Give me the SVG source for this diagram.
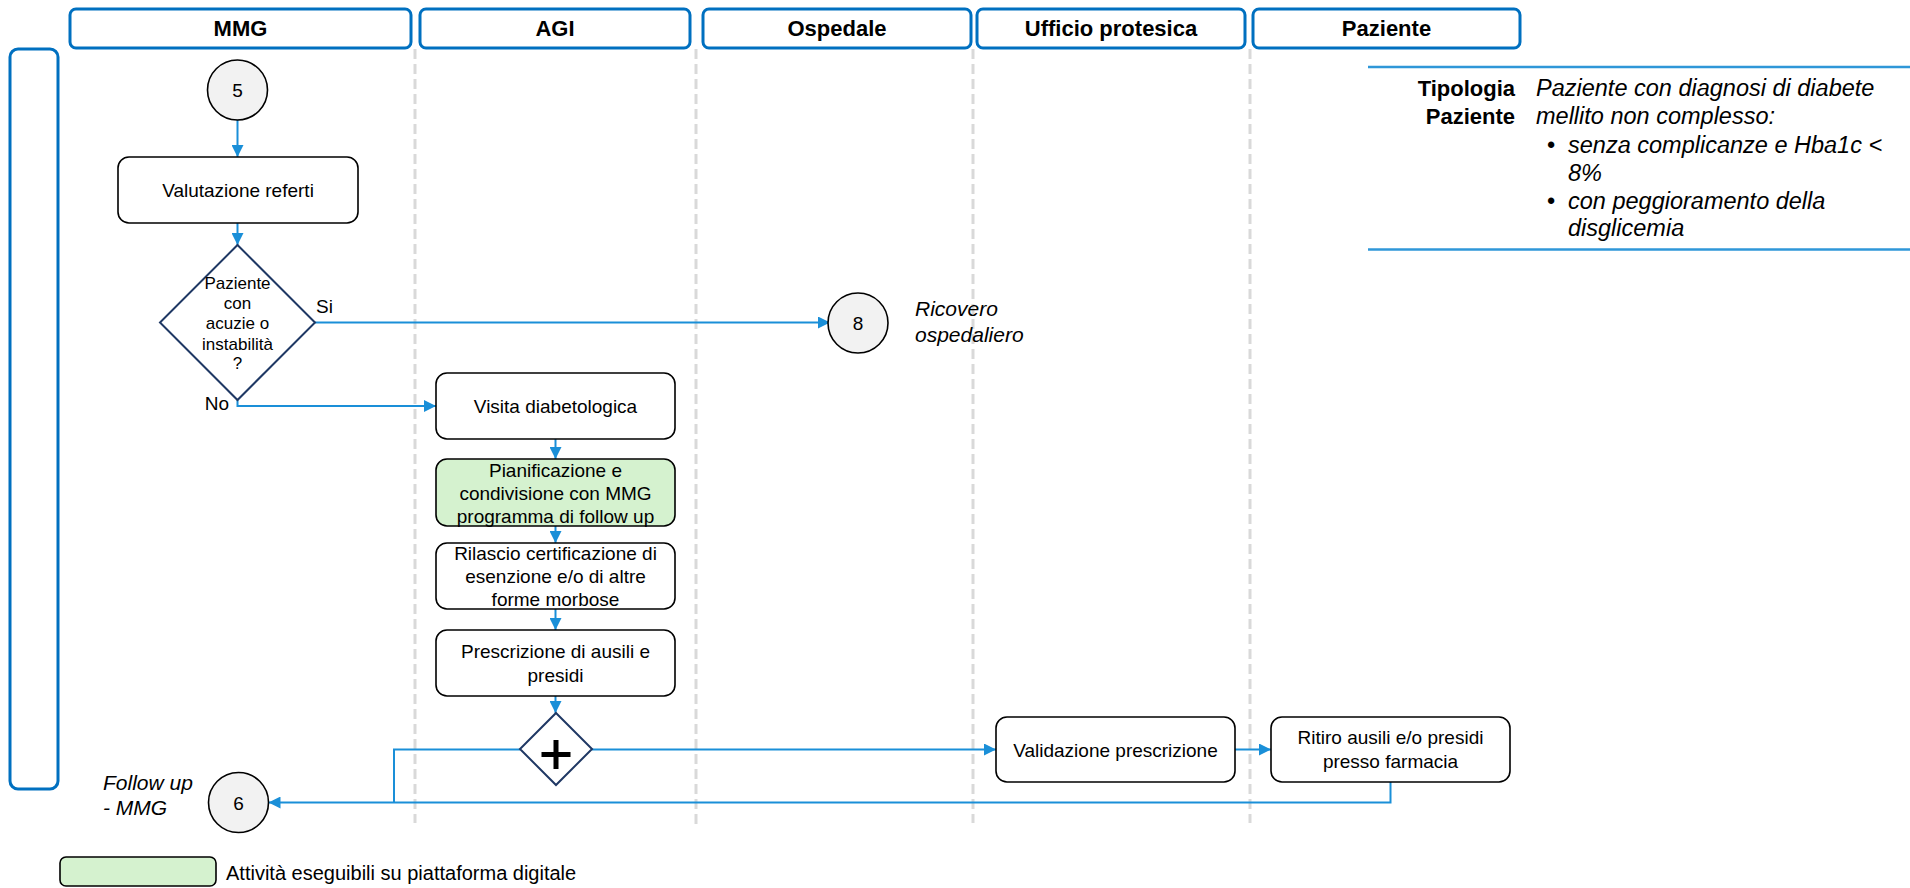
<svg xmlns="http://www.w3.org/2000/svg" width="1910" height="888" viewBox="0 0 1910 888">
<style>
text{font-family:"Liberation Sans",Arial,sans-serif;fill:#000}
.hdr{fill:#fff;stroke:#0070C0;stroke-width:3}
.htx{font-size:22px;font-weight:bold;text-anchor:middle}
.sep{stroke:#d9d9d9;stroke-width:3;stroke-dasharray:10 5;fill:none}
.box{fill:#fff;stroke:#000;stroke-width:1.6}
.green{fill:#d5f2cf}
.circ{fill:#f2f2f2;stroke:#000;stroke-width:1.6}
.dia{fill:#fff;stroke:#1F3864;stroke-width:2}
.t19{font-size:19px;text-anchor:middle}
.t17{font-size:17px;text-anchor:middle}
.it{font-style:italic}
.con{fill:none;stroke:#1a8fd8;stroke-width:2}
.note{stroke:#2f97d8;stroke-width:2.5}
</style>
<defs>
<marker id="ah" markerUnits="userSpaceOnUse" markerWidth="12" markerHeight="12" refX="12" refY="6" orient="auto">
<path d="M0,0 L12,6 L0,12 z" fill="#1a8fd8"/>
</marker>
</defs>
<rect width="1910" height="888" fill="#fff"/>

<g id="lanes">
<rect class="hdr" x="70" y="9" width="341" height="39" rx="6"/>
<text class="htx" x="240.5" y="36">MMG</text>
<rect class="hdr" x="420" y="9" width="270" height="39" rx="6"/>
<text class="htx" x="555" y="36">AGI</text>
<rect class="hdr" x="703" y="9" width="268" height="39" rx="6"/>
<text class="htx" x="837" y="36">Ospedale</text>
<rect class="hdr" x="977" y="9" width="268" height="39" rx="6"/>
<text class="htx" x="1111" y="36">Ufficio protesica</text>
<rect class="hdr" x="1253" y="9" width="267" height="39" rx="6"/>
<text class="htx" x="1386.5" y="36">Paziente</text>
<rect x="10" y="49" width="48" height="740" rx="8" fill="none" stroke="#0070C0" stroke-width="3"/>
<line class="sep" x1="415" y1="49" x2="415" y2="823"/>
<line class="sep" x1="696" y1="49" x2="696" y2="825"/>
<line class="sep" x1="973" y1="49" x2="973" y2="823"/>
<line class="sep" x1="1250" y1="49" x2="1250" y2="823"/>
</g>

<g id="connectors">
<path class="con" d="M237.5,120 L237.5,157" marker-end="url(#ah)"/>
<path class="con" d="M237.5,223 L237.5,245" marker-end="url(#ah)"/>
<path class="con" d="M315,322.5 L830,322.5" marker-end="url(#ah)"/>
<path class="con" d="M237.5,400 L237.5,406 L436,406" marker-end="url(#ah)"/>
<path class="con" d="M555.5,439 L555.5,459" marker-end="url(#ah)"/>
<path class="con" d="M555.5,526 L555.5,543" marker-end="url(#ah)"/>
<path class="con" d="M555.5,609 L555.5,630" marker-end="url(#ah)"/>
<path class="con" d="M555.5,696 L555.5,713" marker-end="url(#ah)"/>
<path class="con" d="M592,749.5 L996,749.5" marker-end="url(#ah)"/>
<path class="con" d="M1235,749.5 L1271,749.5" marker-end="url(#ah)"/>
<path class="con" d="M520,749.5 L394,749.5 L394,802.5"/>
<path class="con" d="M1390.5,782 L1390.5,802.5 L268.5,802.5" marker-end="url(#ah)"/>
<text x="316" y="313" font-size="19">Si</text>
<text x="229" y="410" font-size="19" text-anchor="end">No</text>
</g>

<g id="n5">
<circle class="circ" cx="237.5" cy="90" r="30"/>
<text class="t19" x="237.5" y="97">5</text>
</g>

<g id="valutazione">
<rect class="box" x="118" y="157" width="240" height="66" rx="11"/>
<text class="t19" x="238" y="196.5">Valutazione referti</text>
</g>

<g id="decisione">
<polygon class="dia" points="237.5,245 315,322.5 237.5,400 160,322.5"/>
<text class="t17" x="237.5" y="289">Paziente</text>
<text class="t17" x="237.5" y="309">con</text>
<text class="t17" x="237.5" y="329">acuzie o</text>
<text class="t17" x="237.5" y="350">instabilità</text>
<text class="t17" x="237.5" y="369">?</text>
</g>

<g id="n8">
<circle class="circ" cx="858" cy="323" r="30"/>
<text class="t19" x="858" y="330">8</text>
<text class="it" x="915" y="316" font-size="21">Ricovero</text>
<text class="it" x="915" y="341.5" font-size="21">ospedaliero</text>
</g>

<g id="visita">
<rect class="box" x="436" y="373" width="239" height="66" rx="11"/>
<text class="t19" x="555.5" y="412.5">Visita diabetologica</text>
</g>

<g id="pianificazione">
<rect class="box green" x="436" y="459" width="239" height="67" rx="11"/>
<text class="t19" x="555.5" y="477">Pianificazione e</text>
<text class="t19" x="555.5" y="500">condivisione con MMG</text>
<text class="t19" x="555.5" y="523">programma di follow up</text>
</g>

<g id="rilascio">
<rect class="box" x="436" y="543" width="239" height="66" rx="11"/>
<text class="t19" x="555.5" y="560">Rilascio certificazione di</text>
<text class="t19" x="555.5" y="583">esenzione e/o di altre</text>
<text class="t19" x="555.5" y="606">forme morbose</text>
</g>

<g id="prescrizione">
<rect class="box" x="436" y="630" width="239" height="66" rx="11"/>
<text class="t19" x="555.5" y="658">Prescrizione di ausili e</text>
<text class="t19" x="555.5" y="681.5">presidi</text>
</g>

<g id="gateway">
<polygon class="dia" points="556,713 592,749 556,785 520,749"/>
<path d="M541.5,754.5 H570.5 M556,740 V769" stroke="#000" stroke-width="5" fill="none"/>
</g>

<g id="validazione">
<rect class="box" x="996" y="717" width="239" height="65" rx="11"/>
<text class="t19" x="1115.5" y="756.5">Validazione prescrizione</text>
</g>

<g id="ritiro">
<rect class="box" x="1271" y="717" width="239" height="65" rx="11"/>
<text class="t19" x="1390.5" y="744">Ritiro ausili e/o presidi</text>
<text class="t19" x="1390.5" y="768">presso farmacia</text>
</g>

<g id="n6">
<circle class="circ" cx="238.5" cy="802.5" r="30"/>
<text class="t19" x="238.5" y="810">6</text>
<text class="it" x="103" y="790" font-size="21">Follow up</text>
<text class="it" x="103" y="815" font-size="21">- MMG</text>
</g>

<g id="nota">
<line class="note" x1="1368" y1="67" x2="1910" y2="67"/>
<line class="note" x1="1368" y1="249.5" x2="1910" y2="249.5"/>
<text x="1515" y="96" font-size="22" font-weight="bold" text-anchor="end">Tipologia</text>
<text x="1515" y="124" font-size="22" font-weight="bold" text-anchor="end">Paziente</text>
<g class="it" font-size="23.5">
<text x="1536" y="96">Paziente con diagnosi di diabete</text>
<text x="1536" y="124">mellito non complesso:</text>
<text x="1547" y="152.5" font-style="normal">•</text>
<text x="1568" y="152.5">senza complicanze e Hba1c &lt;</text>
<text x="1568" y="180.5">8%</text>
<text x="1547" y="208.5" font-style="normal">•</text>
<text x="1568" y="208.5">con peggioramento della</text>
<text x="1568" y="236">disglicemia</text>
</g>
</g>

<g id="legenda">
<rect class="box green" x="60" y="857" width="156" height="29" rx="6"/>
<text x="226" y="880" font-size="20">Attività eseguibili su piattaforma digitale</text>
</g>
</svg>
